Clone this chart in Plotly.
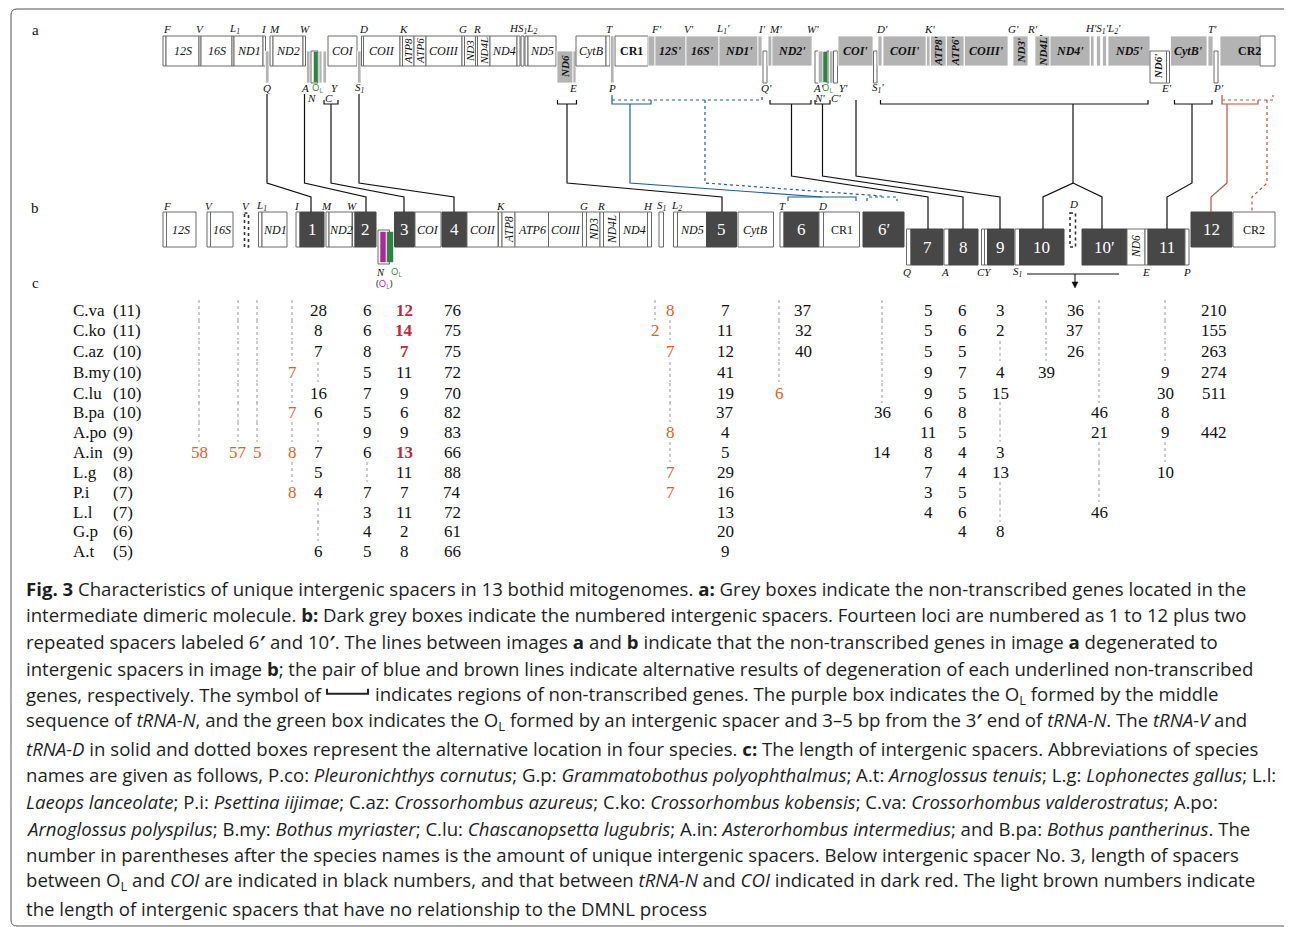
import plotly.graph_objects as go

# ---------------- data: panel c (length of intergenic spacers, bp) ----------------
species = ["C.va", "C.ko", "C.az", "B.my", "C.lu", "B.pa", "A.po",
           "A.in", "L.g", "P.i", "L.l", "G.p", "A.t"]
unique_spacers = [11, 11, 10, 10, 10, 10, 9, 9, 8, 7, 7, 6, 5]
# "" = nothing, ":" = gene present (dotted), number = spacer length
len_F = [":"] * 7 + ["58"] + [""] * 5
len_V = [":"] * 7 + ["57"] + [""] * 5
len_Vd = [":"] * 7 + ["5"] + [""] * 5
len_I = [":", ":", ":", "7", ":", "7", ":", "8", ":", "8", "", "", ""]
len_1 = ["28", "8", "7", ":", "16", "6", ":", "7", "5", "4", ":", ":", "6"]
len_2 = ["6", "6", "8", "5", "7", "5", "9", "6", ":", "7", "3", "4", "5"]
len_3 = ["12", "14", "7", "11", "9", "6", "9", "13", "11", "7", "11", "2", "8"]
len_4 = ["76", "75", "75", "72", "70", "82", "83", "66", "88", "74", "72", "61", "66"]
len_S1 = [":", "2"] + [""] * 11
len_L2 = ["8", ":", "7", ":", ":", ":", "8", ":", "7", "7", "", "", ""]
len_5 = ["7", "11", "12", "41", "19", "37", "4", "5", "29", "16", "13", "20", "9"]
len_T = [":", ":", ":", ":", "6"] + [""] * 8
len_6 = ["37", "32", "40"] + [""] * 10
len_6p = [":", ":", ":", ":", ":", "36", "", "14"] + [""] * 5
len_7 = ["5", "5", "5", "9", "9", "6", "11", "8", "7", "3", "4", "", ""]
len_8 = ["6", "6", "5", "7", "5", "8", "5", "4", "4", "5", "6", "4", ""]
len_9 = ["3", "2", ":", "4", "15", ":", ":", "3", "13", ":", ":", "8", ""]
len_10s = [":", ":", ":", "39"] + [""] * 9
len_10 = ["36", "37", "26"] + [""] * 10
len_10p = [":", ":", ":", ":", ":", "46", "21", ":", ":", ":", "46", "", ""]
len_11 = [":", ":", ":", "9", "30", "8", "9", ":", "10", "", "", "", ""]
len_12 = ["210", "155", "263", "274", "511", "", "442"] + [""] * 6
red_rows_3 = [0, 1, 2, 7]          # tRNA-N to COI (dark red)

caption_lines = [
    "<b>Fig. 3</b> Characteristics of unique intergenic spacers in 13 bothid mitogenomes. <b>a:</b> Grey boxes indicate the non-transcribed genes located in the",
    "intermediate dimeric molecule. <b>b:</b> Dark grey boxes indicate the numbered intergenic spacers. Fourteen loci are numbered as 1 to 12 plus two",
    "repeated spacers labeled 6<b>′</b> and 10<b>′</b>. The lines between images <b>a</b> and <b>b</b> indicate that the non-transcribed genes in image <b>a</b> degenerated to",
    "intergenic spacers in image <b>b</b>; the pair of blue and brown lines indicate alternative results of degeneration of each underlined non-transcribed",
    None,
    "sequence of <i>tRNA-N</i>, and the green box indicates the O<sub>L</sub> formed by an intergenic spacer and 3–5 bp from the 3<b>′</b> end of <i>tRNA-N</i>. The <i>tRNA-V</i> and",
    "<i>tRNA-D</i> in solid and dotted boxes represent the alternative location in four species. <b>c:</b> The length of intergenic spacers. Abbreviations of species",
    "names are given as follows, P.co: <i>Pleuronichthys cornutus</i>; G.p: <i>Grammatobothus polyophthalmus</i>; A.t: <i>Arnoglossus tenuis</i>; L.g: <i>Lophonectes gallus</i>; L.l:",
    "<i>Laeops lanceolate</i>; P.i: <i>Psettina iijimae</i>; C.az: <i>Crossorhombus azureus</i>; C.ko: <i>Crossorhombus kobensis</i>; C.va: <i>Crossorhombus valderostratus</i>; A.po:",
    "<i>Arnoglossus polyspilus</i>; B.my: <i>Bothus myriaster</i>; C.lu: <i>Chascanopsetta lugubris</i>; A.in: <i>Asterorhombus intermedius</i>; and B.pa: <i>Bothus pantherinus</i>. The",
    "number in parentheses after the species names is the amount of unique intergenic spacers. Below intergenic spacer No. 3, length of spacers",
    "between O<sub>L</sub> and <i>COI</i> are indicated in black numbers, and that between <i>tRNA-N</i> and <i>COI</i> indicated in dark red. The light brown numbers indicate",
    "the length of intergenic spacers that have no relationship to the DMNL process",
]
caption_5a = "genes, respectively. The symbol of"
caption_5b = "indicates regions of non-transcribed genes. The purple box indicates the O<sub>L</sub> formed by the middle"

# ---------------- styling ----------------
W, H = 1292, 927
OFF = 8            # page body margin of the html page
SERIF = "Liberation Serif"
SANS = "Open Sans"
GRAY = "#b3b3b3"
DARK = "#474747"
GREEN = "#2e8540"
PURPLE = "#b0279c"
BLUE = "#1f5f8b"
BROWN = "#b5553c"
ORANGE = "#e2601e"
RED = "#c3263a"
OUT = "#6a6a6a"
CAP = 18.6

shapes = []
annotations = []


def rect(x0, x1, y0, y1, fill="white", line=OUT, lw=1, dash="solid"):
    shapes.append(dict(type="rect", xref="x", yref="y", x0=x0, x1=x1, y0=y0, y1=y1,
                       fillcolor=fill, line=dict(color=line, width=lw, dash=dash)))


def poly(pts, color="#111", lw=1.2, dash="solid", fill=None):
    path = "M " + " L ".join(f"{x},{y}" for x, y in pts)
    d = dict(type="path", xref="x", yref="y", path=path,
             line=dict(color=color, width=lw, dash=dash))
    if fill:
        d["path"] += " Z"
        d["fillcolor"] = fill
    shapes.append(d)


def text(x, y, s, size=11, color="#111", fam=SERIF, xa="center", angle=0):
    annotations.append(dict(x=x, y=y, xref="x", yref="y", text=s, showarrow=False,
                            font=dict(size=size, color=color, family=fam),
                            xanchor=xa, yanchor="middle", textangle=angle,
                            borderpad=0))


# ---------------- panel a ----------------
A_ROW = {"t": (36, 66), "h": (51, 83), "f": (36, 83)}
A_ITEMS = [
    (163, 166, "t", "w", ""), (166, 199, "t", "w", "<i>12S</i>"),
    (199, 201, "t", "w", ""), (201, 232, "t", "w", "<i>16S</i>"),
    (232, 234, "t", "w", ""), (234, 263, "t", "w", "<i>ND1</i>"),
    (263, 265.5, "t", "w", ""), (265.5, 269, "h", "g", ""),
    (270, 273, "t", "w", ""), (273, 303, "t", "w", "<i>ND2</i>"),
    (303, 305.5, "t", "w", ""), (306.5, 310, "h", "g", ""),
    (311, 318, "h", "w", ""), (319, 322, "h", "g", ""), (323, 326.5, "h", "g", ""),
    (328, 357, "t", "w", "<i>COI</i>"), (357.5, 361, "h", "g", ""),
    (361.5, 363.5, "t", "w", ""), (363.5, 400, "t", "w", "<i>COII</i>"),
    (400, 402.5, "t", "w", ""), (402.5, 414, "t", "wr", "<i>ATP8</i>"),
    (414, 426, "t", "wr", "<i>ATP6</i>"), (426, 462, "t", "w", "<i>COIII</i>"),
    (462, 464.5, "t", "w", ""), (464.5, 475.5, "t", "wr", "<i>ND3</i>"),
    (475.5, 477.5, "t", "w", ""), (477.5, 490, "t", "wr", "<i>ND4L</i>"),
    (490, 517, "t", "w", "<i>ND4</i>"),
    (517, 520, "t", "w", ""), (521, 524, "t", "w", ""), (525, 528, "t", "w", ""),
    (528, 556, "t", "w", "<i>ND5</i>"),
    (557, 573, "h", "gr", "<b><i>ND6</i></b>"), (573, 576, "h", "g", ""),
    (576, 606, "t", "w", "<i>CytB</i>"), (606, 610, "t", "w", ""),
    (610.5, 614, "f", "g", ""),
    (615, 648, "t", "w", "<b>CR1</b>"), (648, 655, "t", "g", ""),
    (655, 686, "t", "g", "<b><i>12S'</i></b>"), (686, 719, "t", "g", "<b><i>16S'</i></b>"),
    (719, 758, "t", "g", "<b><i>ND1'</i></b>"), (758, 762, "t", "g", ""),
    (763, 767, "h", "w", ""), (768, 772, "t", "g", ""),
    (772, 812, "t", "g", "<b><i>ND2'</i></b>"),
    (815, 818.5, "h", "w", ""), (818.5, 823, "h", "g", ""), (827, 829, "h", "w", ""),
    (829.5, 833, "h", "g", ""), (833.5, 837.5, "h", "w", ""),
    (838, 873, "t", "g", "<b><i>COI'</i></b>"), (873.5, 877, "h", "w", ""),
    (878, 882, "t", "g", ""), (883, 926, "t", "g", "<b><i>COII'</i></b>"),
    (926.5, 930, "t", "g", ""), (930.5, 946, "t", "gr", "<b><i>ATP8'</i></b>"),
    (946.5, 964, "t", "gr", "<b><i>ATP6'</i></b>"), (964.5, 1008, "t", "g", "<b><i>COIII'</i></b>"),
    (1013, 1028, "t", "gr", "<b><i>ND3'</i></b>"), (1035, 1050, "t", "gr", "<b><i>ND4L'</i></b>"),
    (1050, 1090, "t", "g", "<b><i>ND4'</i></b>"),
    (1090.5, 1094, "t", "g", ""), (1096.5, 1100.5, "t", "g", ""), (1102.5, 1106.5, "t", "g", ""),
    (1108, 1150, "t", "g", "<b><i>ND5'</i></b>"),
    (1150, 1166.5, "h", "wr", "<b><i>ND6'</i></b>"), (1166.5, 1169.5, "h", "w", ""),
    (1170.5, 1207, "t", "g", "<b><i>CytB'</i></b>"), (1208, 1213, "t", "g", ""),
    (1214, 1218, "h", "w", ""),
    (1220, 1260, "t", "g", ""), (1260, 1275, "t", "w", ""),
]
for x0, x1, row, kind, lab in A_ITEMS:
    y0, y1 = A_ROW[row]
    if kind.startswith("g"):
        rect(x0, x1, y0, y1, fill=GRAY, line="white", lw=0.8)
    else:
        rect(x0, x1, y0, y1, fill="white", line=OUT, lw=1)
    if lab:
        rot = kind.endswith("r")
        text((x0 + x1) / 2, (y0 + y1) / 2, lab, size=12 if not rot else 11,
             angle=-90 if rot else 0)
text(1249, 51, "<b>CR2</b>", size=12)
# O_L in panel a
rect(314, 317.5, 52, 82, fill=GREEN, line=GREEN, lw=0.5)
rect(823.5, 827, 52, 82, fill=GREEN, line=GREEN, lw=0.5)

A_TOP = [(167, "F"), (200, "V"), (234, "L<sub>1</sub>"), (263.5, "I"), (274, "M"), (305, "W"),
         (363, "D"), (403, "K"), (463, "G"), (477, "R"), (523, "HS<sub>1</sub>L<sub>2</sub>"),
         (609, "T"), (656, "F'"), (689, "V'"), (723, "L<sub>1</sub>'"), (762, "I'"), (775, "M'"),
         (813, "W'"), (882, "D'"), (929, "K'"), (1013, "G'"), (1032, "R'"),
         (1103, "H'S<sub>1</sub>'L<sub>2</sub>'"), (1212, "T'")]
for x, s in A_TOP:
    text(x, 29, f"<i>{s}</i>", size=11)
A_BOT = [(267, "Q"), (305, "A"), (335, "Y"), (360, "S<sub>1</sub>"), (573, "E"), (612, "P"),
         (766, "Q'"), (818, "A'"), (843, "Y'"), (878, "S<sub>1</sub>'"), (1166, "E'"), (1218, "P'")]
for x, s in A_BOT:
    text(x, 88, f"<i>{s}</i>", size=11)
for x, s in [(311, "N"), (329, "C"), (819, "N'"), (836, "C'")]:
    text(x, 98, f"<i>{s}</i>", size=11)
text(317, 88, "O<sub>L</sub>", size=9.5, color=GREEN, fam=SANS)
text(827, 88, "O<sub>L</sub>", size=9.5, color=GREEN, fam=SANS)

# ---------------- panel b ----------------
B_ROW = {"u": (212, 247), "l": (229, 265)}
B_ITEMS = [
    (163, 166.5, "u", "w", ""), (166.5, 196, "u", "w", "<i>12S</i>"),
    (207, 210.5, "u", "w", ""), (210.5, 233, "u", "w", "<i>16S</i>"),
    (244.5, 248.5, "u", "dash", ""),
    (258.5, 262, "u", "w", ""), (262, 287, "u", "w", "<i>ND1</i>"),
    (296, 300, "u", "w", ""), (300, 324, "u", "d", "1"),
    (326, 329, "u", "w", ""), (329, 352, "u", "w", "<i>ND2</i>"),
    (352.5, 355, "u", "w", ""), (355, 376, "u", "d", "2"),
    (394.5, 414.5, "u", "d", "3"), (415, 441, "u", "w", "<i>COI</i>"),
    (442, 467, "u", "d", "4"), (467, 498, "u", "w", "<i>COII</i>"),
    (498.5, 502, "u", "w", ""), (502, 515, "u", "wr", "<i>ATP8</i>"),
    (515, 548.5, "u", "w", "<i>ATP6</i>"), (548.5, 582.5, "u", "w", "<i>COIII</i>"),
    (582.5, 586.5, "u", "w", ""), (586.5, 600, "u", "wr", "<i>ND3</i>"),
    (600, 603.5, "u", "w", ""), (603.5, 619.5, "u", "wr", "<i>ND4L</i>"),
    (619.5, 647.5, "u", "w", "<i>ND4</i>"), (647.5, 651.5, "u", "w", ""),
    (659, 663.5, "u", "w", ""),
    (673.5, 677.5, "u", "w", ""), (677.5, 706.5, "u", "w", "<i>ND5</i>"),
    (706.5, 736.5, "u", "d", "5"), (738, 773.5, "u", "w", "<i>CytB</i>"),
    (780, 784, "u", "w", ""), (784, 819, "u", "d", "6"), (819, 823.5, "u", "w", ""),
    (823.5, 859.5, "u", "w", "CR1"), (863, 904, "u", "d", "6′"),
    (906.5, 911, "l", "w", ""), (911, 943, "l", "d", "7"),
    (944, 949, "l", "w", ""), (949, 978, "l", "d", "8"),
    (981.5, 984.5, "l", "w", ""), (984.5, 987.5, "l", "w", ""), (987.5, 1014, "l", "d", "9"),
    (1015, 1019.5, "l", "w", ""), (1019.5, 1064, "l", "d", "10"),
    (1070, 1075.5, "u", "dash", ""),
    (1082, 1127, "l", "d", "10′"), (1127, 1145, "l", "wr", "<i>ND6</i>"),
    (1145, 1148, "l", "w", ""), (1148, 1185, "l", "d", "11"), (1185, 1189, "l", "w", ""),
    (1191, 1232, "u", "d", "12"), (1233, 1275, "u", "w", "CR2"),
]
for x0, x1, row, kind, lab in B_ITEMS:
    y0, y1 = B_ROW[row]
    if kind == "d":
        rect(x0, x1, y0, y1, fill=DARK, line=DARK, lw=1)
        text((x0 + x1) / 2, (y0 + y1) / 2, lab, size=17, color="white")
    elif kind == "dash":
        rect(x0, x1, y0 + 1, y1, fill="white", line="#333", lw=1.6, dash="dot")
    else:
        rect(x0, x1, y0, y1, fill="white", line=OUT, lw=1)
        if lab:
            rot = kind.endswith("r")
            text((x0 + x1) / 2, (y0 + y1) / 2, lab, size=12 if not rot else 11.5,
                 angle=-90 if rot else 0)
# N / O_L box
rect(378, 389.5, 230, 264, fill="white", line=OUT, lw=1)
rect(380.5, 385.5, 232, 262, fill=PURPLE, line=PURPLE, lw=0.5)
rect(387, 393, 232, 262, fill=GREEN, line=GREEN, lw=0.5)

B_TOP = [(167, "F"), (209, "V"), (246, "V"), (261, "L<sub>1</sub>"), (297, "I"), (326, "M"),
         (352, "W"), (500, "K"), (584, "G"), (601, "R"), (648, "H"), (662, "S<sub>1</sub>"),
         (676, "L<sub>2</sub>"), (782, "T"), (822, "D")]
for x, s in B_TOP:
    text(x, 206, f"<i>{s}</i>", size=11)
text(1073, 204, "<i>D</i>", size=11)
for x, s in [(907, "Q"), (945, "A"), (984, "CY"), (1018, "S<sub>1</sub>"), (1146, "E"), (1187, "P")]:
    text(x, 272, f"<i>{s}</i>", size=11)
text(380, 272, "<i>N</i>", size=10.5)
text(396, 272, "O<sub>L</sub>", size=9.5, color=GREEN, fam=SANS)
text(384, 284, "(<span style='color:%s'>O<sub>L</sub></span>)" % PURPLE, size=9.5, fam=SANS)

# bracket + arrow under S1..E in panel b
poly([(1027, 274), (1119, 274)], lw=1.1)
poly([(1075, 274), (1075, 283)], lw=1.1)
poly([(1072, 282), (1078, 282), (1075, 288)], lw=0.5, fill="#111")

# ---------------- connectors a -> b ----------------
def bracket(xa, xb, y=104, h=4, color="#111", dash="solid"):
    poly([(xa, y - h), (xa, y), (xb, y), (xb, y - h)], color=color, dash=dash)


poly([(267, 94), (267, 183), (311, 197), (311, 212)])
poly([(304.5, 94), (304.5, 183), (366, 197), (366, 212)])
bracket(324, 338)
poly([(331, 104), (331, 183), (404, 197), (404, 212)])
poly([(359, 94), (359, 183), (454, 197), (454, 212)])
bracket(557.5, 576.5)
poly([(567, 104), (567, 183), (722, 197), (722, 212)])
# blue pair
poly([(612, 95), (612, 104), (651, 104), (651, 100)], color=BLUE)
poly([(630, 104), (630, 183), (822, 197)], color=BLUE)
poly([(788, 201), (788, 197), (856, 197), (856, 201)], color=BLUE)
poly([(612, 100), (762, 100), (762, 95)], color=BLUE, dash="dot")
poly([(705, 100), (705, 183), (882, 196)], color=BLUE, dash="dot")
poly([(867, 201), (867, 197), (897, 197), (897, 201)], color=BLUE, dash="dot")
# right part
bracket(770, 811)
poly([(791.5, 104), (791.5, 176), (928, 197), (928, 229)])
bracket(815, 830)
poly([(822.5, 104), (822.5, 176), (963, 197), (963, 229)])
poly([(856, 100), (856, 176), (1000, 197), (1000, 229)])
bracket(880.5, 1148)
poly([(1073, 104), (1073, 183), (1043, 197), (1043, 229)])
poly([(1073, 183), (1102, 197), (1102, 229)])
bracket(1174.5, 1212)
poly([(1192, 104), (1192, 183), (1167, 197), (1167, 229)])
# brown pair
poly([(1222, 95), (1222, 104), (1258, 104), (1258, 100)], color=BROWN)
poly([(1227, 104), (1227, 183), (1211, 197), (1211, 212)], color=BROWN)
poly([(1222, 100), (1273, 100), (1273, 95)], color=BROWN, dash="dot")
poly([(1267, 100), (1267, 183), (1252, 197), (1252, 212)], color=BROWN, dash="dot")

# ---------------- panel c table ----------------
ROW_Y = [310, 330, 351, 372, 393, 412, 432, 452, 472, 492, 512, 531, 551]
TABLE_COLS = [
    (len_F, 199, True), (len_V, 238, True), (len_Vd, 257, True), (len_I, 292, True),
    (len_1, 318, False), (len_2, 367, False), (len_3, 404, False), (len_4, 452, False),
    (len_S1, 655, True), (len_L2, 670, True), (len_5, 725, False), (len_T, 779, True),
    (len_6, 803, False), (len_6p, 882, False), (len_7, 928, False), (len_8, 962, False),
    (len_9, 1000, False), (len_10s, 1046, False), (len_10, 1075, False),
    (len_10p, 1099, False), (len_11, 1165, False), (len_12, 1214, False),
]
for i, (sp, n) in enumerate(zip(species, unique_spacers)):
    text(72, ROW_Y[i], sp, size=17, xa="left")
    text(112, ROW_Y[i], f"({n})", size=17, xa="left")
for vals, x, light in TABLE_COLS:
    for i, v in enumerate(vals):
        y = ROW_Y[i]
        if v == ":":
            poly([(x, y - 10), (x, y + 10)], color="#9a9a9a", lw=1, dash="dot")
        elif v:
            if light:
                text(x, y, v, size=17, color=ORANGE)
            elif vals is len_3 and i in red_rows_3:
                text(x, y, f"<b>{v}</b>", size=17, color=RED)
            else:
                text(x, y, v, size=17)

# panel letters
text(35, 30, "a", size=15)
text(35, 208, "b", size=15)
text(35, 283, "c", size=15)

# ---------------- caption ----------------
for i, line in enumerate(caption_lines):
    y = 588 + i * 26.67
    if line is None:
        text(25, y, caption_5a, size=CAP, fam=SANS, xa="left", color="#1e1e1e")
        poly([(327, y - 6), (327, y - 1), (368, y - 1), (368, y - 6)], color="#222", lw=2)
        text(374, y, caption_5b, size=CAP, fam=SANS, xa="left", color="#1e1e1e")
    else:
        text(25, y, line, size=CAP, fam=SANS, xa="left", color="#1e1e1e")

# figure border
shapes.append(dict(type="path", xref="x", yref="y",
                   path="M 1290,926 L 17,926 Q 11,926 11,920 L 11,15 Q 11,9 17,9 L 1284,9 Q 1290,9 1290,15 Z",
                   line=dict(color="#555", width=1)))

fig = go.Figure(go.Scatter(x=[0], y=[0], mode="markers", marker=dict(opacity=0), hoverinfo="skip"))
fig.update_layout(width=W, height=H, margin=dict(l=0, r=0, t=0, b=0),
                  paper_bgcolor="white", plot_bgcolor="white", showlegend=False,
                  xaxis=dict(range=[OFF, W + OFF], visible=False, fixedrange=True),
                  yaxis=dict(range=[H + OFF, OFF], visible=False, fixedrange=True),
                  shapes=shapes, annotations=annotations)
fig.write_html("out.html")
